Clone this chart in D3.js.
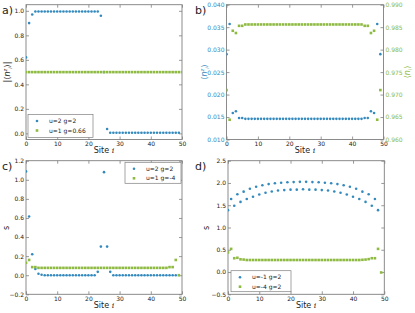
<!DOCTYPE html>
<html><head><meta charset="utf-8">
<script src="https://cdn.jsdelivr.net/npm/d3@7"></script>
<style>body{margin:0;background:#fff}svg{display:block}text{font-family:"DejaVu Sans",sans-serif}</style>
</head><body>
<svg id="c" width="415" height="313"></svg>
<script>
// ---------- data ----------
const xTicks = [0,10,20,30,40,50];
// panel a
const aBlue = [0.62,0.90,0.97,0.995,0.995,0.995,0.995,0.995,0.995,0.995,0.995,0.995,0.995,0.995,0.995,0.995,0.995,0.995,0.995,0.995,0.995,0.995,0.995,0.995,0.96,0.5,0.036,0.005,0.005,0.005,0.005,0.005,0.005,0.005,0.005,0.005,0.005,0.005,0.005,0.005,0.005,0.005,0.005,0.005,0.005,0.005,0.005,0.005,0.005,0.005];
const aGreen = [0.5,0.5,0.5,0.5,0.5,0.5,0.5,0.5,0.5,0.5,0.5,0.5,0.5,0.5,0.5,0.5,0.5,0.5,0.5,0.5,0.5,0.5,0.5,0.5,0.5,0.5,0.5,0.5,0.5,0.5,0.5,0.5,0.5,0.5,0.5,0.5,0.5,0.5,0.5,0.5,0.5,0.5,0.5,0.5,0.5,0.5,0.5,0.5,0.5,0.5,0.5];
const aTicks = [0.0,0.2,0.4,0.6,0.8,1.0];
const aLegend = ["u=2 g=2","u=1 g=0.66"];
// panel b
const bBlue = [0.0290,0.0357,0.0159,0.0163,0.0148,0.0148,0.0146,0.0146,0.0146,0.0146,0.0146,0.0146,0.0146,0.0146,0.0146,0.0146,0.0146,0.0146,0.0146,0.0146,0.0146,0.0146,0.0146,0.0146,0.0146,0.0146,0.0146,0.0146,0.0146,0.0146,0.0146,0.0146,0.0146,0.0146,0.0146,0.0146,0.0146,0.0146,0.0146,0.0146,0.0146,0.0146,0.0146,0.0146,0.0148,0.0148,0.0163,0.0159,0.0357,0.0290];
const bGreen = [0.9710,0.9644,0.9842,0.9837,0.9853,0.9853,0.9856,0.9856,0.9856,0.9856,0.9856,0.9856,0.9856,0.9856,0.9856,0.9856,0.9856,0.9856,0.9856,0.9856,0.9856,0.9856,0.9856,0.9856,0.9856,0.9856,0.9856,0.9856,0.9856,0.9856,0.9856,0.9856,0.9856,0.9856,0.9856,0.9856,0.9856,0.9856,0.9856,0.9856,0.9856,0.9856,0.9856,0.9856,0.9853,0.9853,0.9837,0.9842,0.9644,0.9710];
const bLeftTicks = [0.010,0.015,0.020,0.025,0.030,0.035,0.040];
const bRightTicks = [0.960,0.965,0.970,0.975,0.980,0.985,0.990];
// panel c
const cBlue = [1.088,0.616,0.22,0.065,0.015,0.005,0,0,0,0,0,0,0,0,0,0,0,0,0,0,0,0,0,0.035,0.30,1.08,0.30,0.035,0,0,0,0,0,0,0,0,0,0,0,0,0,0,0,0,0,0,0,0,0];
const cGreen = [0.13,0.16,0.085,0.085,0.077,0.077,0.077,0.077,0.077,0.077,0.077,0.077,0.077,0.077,0.077,0.077,0.077,0.077,0.077,0.077,0.077,0.077,0.077,0.077,0.077,0.077,0.077,0.077,0.077,0.077,0.077,0.077,0.077,0.077,0.077,0.077,0.077,0.077,0.077,0.077,0.077,0.077,0.077,0.077,0.077,0.077,0.085,0.085,0.16,0.0];
const cTicks = [-0.2,0.0,0.2,0.4,0.6,0.8,1.0,1.2];
const cLegend = ["u=2 g=2","u=1 g=-4"];
// panel d
const dBlue = [1.39,1.64,1.49,1.745,1.575,1.805,1.64,1.87,1.69,1.915,1.74,1.95,1.78,1.975,1.81,1.995,1.83,2.005,1.84,2.015,1.85,2.02,1.85,2.025,1.86,2.025,1.85,2.02,1.85,2.015,1.84,2.005,1.83,1.995,1.81,1.975,1.78,1.95,1.74,1.915,1.69,1.87,1.64,1.805,1.575,1.745,1.49,1.64,1.39];
const dGreen = [0.44,0.52,0.31,0.32,0.285,0.28,0.27,0.27,0.27,0.27,0.27,0.27,0.27,0.27,0.27,0.27,0.27,0.27,0.27,0.27,0.27,0.27,0.27,0.27,0.27,0.27,0.27,0.27,0.27,0.27,0.27,0.27,0.27,0.27,0.27,0.27,0.27,0.27,0.27,0.27,0.27,0.27,0.27,0.275,0.28,0.29,0.31,0.31,0.52,-0.01];
const dTicks = [-0.5,0.0,0.5,1.0,1.5,2.0,2.5];
const dLegend = ["u=-1 g=2","u=-4 g=2"];

// ---------- style ----------
const BLUE = "#348ABD", GREEN = "#8EBA42", FRAME = "#7f7f7f", TXT = "#222";
const svg = d3.select("#c");
const fmtMinus = s => s.replace("-", "\u2212");

function panel(o){
  const x = d3.scaleLinear().domain([0,50]).range([o.x0,o.x1]);
  const y = d3.scaleLinear().domain(o.yd).range([o.y1,o.y0]);
  const g = svg.append("g");
  const cid = "clip"+o.id;
  g.append("clipPath").attr("id",cid).append("rect")
    .attr("x",o.x0).attr("y",o.y0).attr("width",o.x1-o.x0).attr("height",o.y1-o.y0);
  const fs = "6px";
  const bottom = g.append("g").attr("transform",`translate(0,${o.y1})`)
    .call(d3.axisBottom(x).tickValues(xTicks).tickSizeInner(-3).tickSizeOuter(0).tickPadding(2).tickFormat(d3.format("d")));
  const top = g.append("g").attr("transform",`translate(0,${o.y0})`)
    .call(d3.axisTop(x).tickValues(xTicks).tickSizeInner(-3).tickSizeOuter(0).tickFormat(""));
  const left = g.append("g").attr("transform",`translate(${o.x0},0)`)
    .call(d3.axisLeft(y).tickValues(o.yt).tickSizeInner(-3).tickSizeOuter(0).tickPadding(2).tickFormat(d=>fmtMinus(d3.format(o.yf)(d))));
  let y2 = null, right;
  if (o.y2d){
    y2 = d3.scaleLinear().domain(o.y2d).range([o.y1,o.y0]);
    right = g.append("g").attr("transform",`translate(${o.x1},0)`)
      .call(d3.axisRight(y2).tickValues(o.y2t).tickSizeInner(-3).tickSizeOuter(0).tickPadding(2).tickFormat(d3.format(o.y2f)));
  } else {
    right = g.append("g").attr("transform",`translate(${o.x1},0)`)
      .call(d3.axisRight(y).tickValues(o.yt).tickSizeInner(-3).tickSizeOuter(0).tickFormat(""));
  }
  [bottom,top,left,right].forEach(a=>{
    a.select(".domain").remove();
    a.selectAll("line").attr("stroke","#555").attr("stroke-width",0.6);
    a.selectAll("text").attr("font-size",fs).attr("fill",TXT).attr("font-family","DejaVu Sans");
  });
  if (o.leftColor) left.selectAll("text").attr("fill",o.leftColor);
  if (o.rightColor) right.selectAll("text").attr("fill",o.rightColor);
  g.append("rect").attr("x",o.x0).attr("y",o.y0).attr("width",o.x1-o.x0).attr("height",o.y1-o.y0)
    .attr("fill","none").attr("stroke",FRAME).attr("stroke-width",0.9);
  // data: blue series plotted first, green on top
  const dg = g.append("g").attr("clip-path",`url(#${cid})`);
  const sq = 2.6;
  dg.selectAll(".bs").data(o.blue).join("circle")
    .attr("cx",(d,i)=>x(i)).attr("cy",d=>y(d)).attr("r",1.3).attr("fill",BLUE);
  dg.selectAll(".gs").data(o.green).join("rect")
    .attr("x",(d,i)=>x(i)-sq/2).attr("y",d=>(o.greenRight?y2:y)(d)-sq/2)
    .attr("width",sq).attr("height",sq).attr("fill",GREEN);
  const xl = g.append("text").attr("x",(o.x0+o.x1)/2).attr("y",o.y1+13.5).attr("text-anchor","middle")
    .attr("font-size","8px").attr("fill",TXT);
  xl.append("tspan").text("Site ");
  xl.append("tspan").attr("font-family","DejaVu Serif").attr("font-style","italic").text("i");
  g.append("text").attr("x",o.lx).attr("y",o.ly).attr("font-family","DejaVu Serif").attr("font-size","11px")
    .attr("fill",TXT).text(o.letter);
  if (o.legend){
    const L = o.legPos;
    const lg = g.append("g");
    lg.append("rect").attr("x",L.x).attr("y",L.y).attr("width",L.w).attr("height",L.h)
      .attr("fill","#fff").attr("stroke",FRAME).attr("stroke-width",0.7);
    o.legend.forEach((t,k)=>{
      const yy = L.y + 6.5 + k*9.5;
      if (k===0) lg.append("circle").attr("cx",L.x+9).attr("cy",yy).attr("r",1.3).attr("fill",BLUE);
      else lg.append("rect").attr("x",L.x+9-1.3).attr("y",yy-1.3).attr("width",2.6).attr("height",2.6).attr("fill",GREEN);
      lg.append("text").attr("x",L.x+21).attr("y",yy+2).attr("font-size","6px").attr("fill",TXT).text(t);
    });
  }
  return {g,x,y,y2};
}

panel({id:"a",x0:26,x1:182,y0:4.7,y1:139.5,yd:[-0.05,1.05],yt:aTicks,yf:".1f",
  blue:aBlue,green:aGreen,letter:"a)",lx:2,ly:14,legend:aLegend,legPos:{x:28,y:114.5,w:65,h:23}});
panel({id:"b",x0:226.5,x1:383.5,y0:4.7,y1:139.5,yd:[0.010,0.040],yt:bLeftTicks,yf:".3f",
  y2d:[0.960,0.990],y2t:bRightTicks,y2f:".3f",leftColor:BLUE,rightColor:GREEN,greenRight:true,
  blue:bBlue,green:bGreen,letter:"b)",lx:195,ly:14});
panel({id:"c",x0:26,x1:182,y0:160.7,y1:294.3,yd:[-0.2,1.2],yt:cTicks,yf:".1f",
  blue:cBlue,green:cGreen,letter:"c)",lx:2,ly:170,legend:cLegend,legPos:{x:125,y:162.3,w:56,h:21}});
panel({id:"d",x0:228,x1:384.3,y0:160.7,y1:294.3,yd:[-0.5,2.5],yt:dTicks,yf:".1f",
  blue:dBlue,green:dGreen,letter:"d)",lx:195,ly:170,legend:dLegend,legPos:{x:231,y:270.7,w:60,h:21}});

function ylab(x,y,color,parts){
  const t = svg.append("text").attr("transform",`translate(${x},${y}) rotate(-90)`).attr("text-anchor","middle")
    .attr("font-size","8px").attr("fill",color).attr("font-family","DejaVu Serif");
  parts.forEach(p=>{ const s=t.append("tspan").text(p[0]); if(p[1]) s.attr("dy",p[1]); if(p[2]) s.attr("font-size",p[2]); if(p[3]) s.attr("font-style","italic"); });
}
ylab(10,72,TXT,[["|\u27E8"],["n",0,null,1],["z",-3,"5px",1],["i",5,"5px",1],["\u27E9|",-2]]);
ylab(207,72,BLUE,[["\u27E8"],["n",0,null,1],["z",-3,"5px",1],["i",5,"5px",1],["\u27E9",-2]]);
ylab(410,72,GREEN,[["\u27E8"],["n",0,null,1],["i",2,"5px",1],["\u27E9",-2]]);
ylab(9,228,TXT,[["s"]]);
ylab(209,228,TXT,[["s"]]);
</script>
</body></html>
